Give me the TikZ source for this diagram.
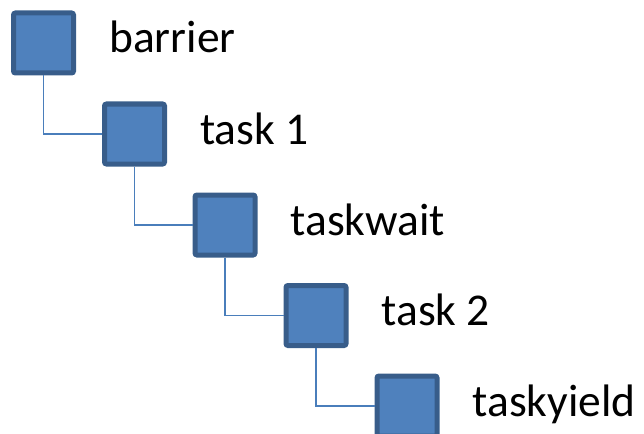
\documentclass[tikz,border=0pt]{standalone}
\usepackage{fontspec}
\setmainfont{Carlito}
\definecolor{boxfill}{HTML}{4F81BD}
\definecolor{boxedge}{HTML}{385D8A}
\definecolor{linkc}{HTML}{4A7EBB}
\begin{document}
\begin{tikzpicture}[x=1pt,y=-1pt,
  stepbox/.style={draw=boxedge, fill=boxfill, line width=5pt, rounded corners=2pt,
    minimum width=60pt, minimum height=60pt, inner sep=0pt, outer sep=2.5pt},
  lbl/.style={anchor=base west, font=\fontsize{45.5}{50}\selectfont, inner sep=0pt, text=black},
  link/.style={draw=linkc, line width=1.5pt}]
\useasboundingbox (0,0) rectangle (644,433);
\node[stepbox] (b1) at (43.5,43) {};
\node[stepbox] (b2) at (134.5,134) {};
\node[stepbox] (b3) at (225,225) {};
\node[stepbox] (b4) at (316,315.5) {};
\node[stepbox] (b5) at (407,406) {};
\foreach \i/\t in {1/barrier,2/task 1,3/taskwait,4/task 2,5/taskyield}{
  \node[lbl] (l\i) at ([xshift=33pt,yshift=-10pt]b\i.east) {\t};
}
\foreach \a/\b in {1/2,2/3,3/4,4/5}{
  \draw[link] (b\a.south) |- (b\b.west);
}
\end{tikzpicture}
\end{document}
